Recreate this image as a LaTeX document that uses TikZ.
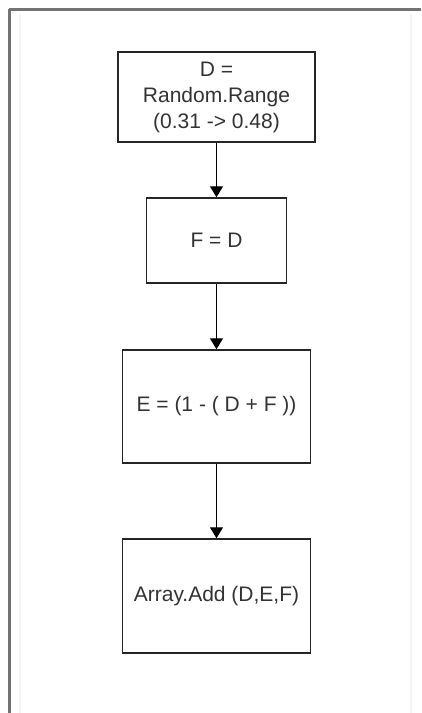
\documentclass[tikz,border=0pt]{standalone}
\usepackage{fontspec}
\setmainfont{Liberation Sans}
\usetikzlibrary{arrows.meta}
\begin{document}
\begin{tikzpicture}[x=1pt,y=-1pt,
  stepbox/.style={draw=black!85,line width=1.5pt,fill=white,inner sep=0pt,
    align=center,font=\fontsize{21}{26}\selectfont,text=black!80},
  flow/.style={draw=black,line width=1.3pt,-{Triangle[width=13pt,length=11pt]}},
  frameline/.style={draw=black!55,line width=3pt},
  faintline/.style={draw=black!4,line width=1.2pt}]
  \useasboundingbox (0,0) rectangle (421,713);
  \fill[white] (0,0) rectangle (421,713);
  % page frame
  \draw[faintline] (20,14) -- (20,713);
  \draw[faintline] (411,14) -- (411,713);
  \draw[frameline] (9,9) -- (421,9);
  \draw[frameline] (9,9) -- (9,713);
  % process steps
  \node[stepbox,minimum width=197pt,minimum height=90pt] (d) at (216.5,97)
    {D =\\Random.Range\\(0.31 -> 0.48)};
  \node[stepbox,minimum width=140pt,minimum height=85pt] (f) at (216.5,240.5)
    {F = D};
  \node[stepbox,minimum width=188pt,minimum height=113pt] (e) at (216.5,406.5)
    {E = (1 - ( D + F ))};
  \node[stepbox,minimum width=188pt,minimum height=114pt] (a) at (216.5,596)
    {Array.Add (D,E,F)};
  % connectors
  \draw[flow] (d.south) -- (f.north);
  \draw[flow] (f.south) -- (e.north);
  \draw[flow] (e.south) -- (a.north);
\end{tikzpicture}
\end{document}
